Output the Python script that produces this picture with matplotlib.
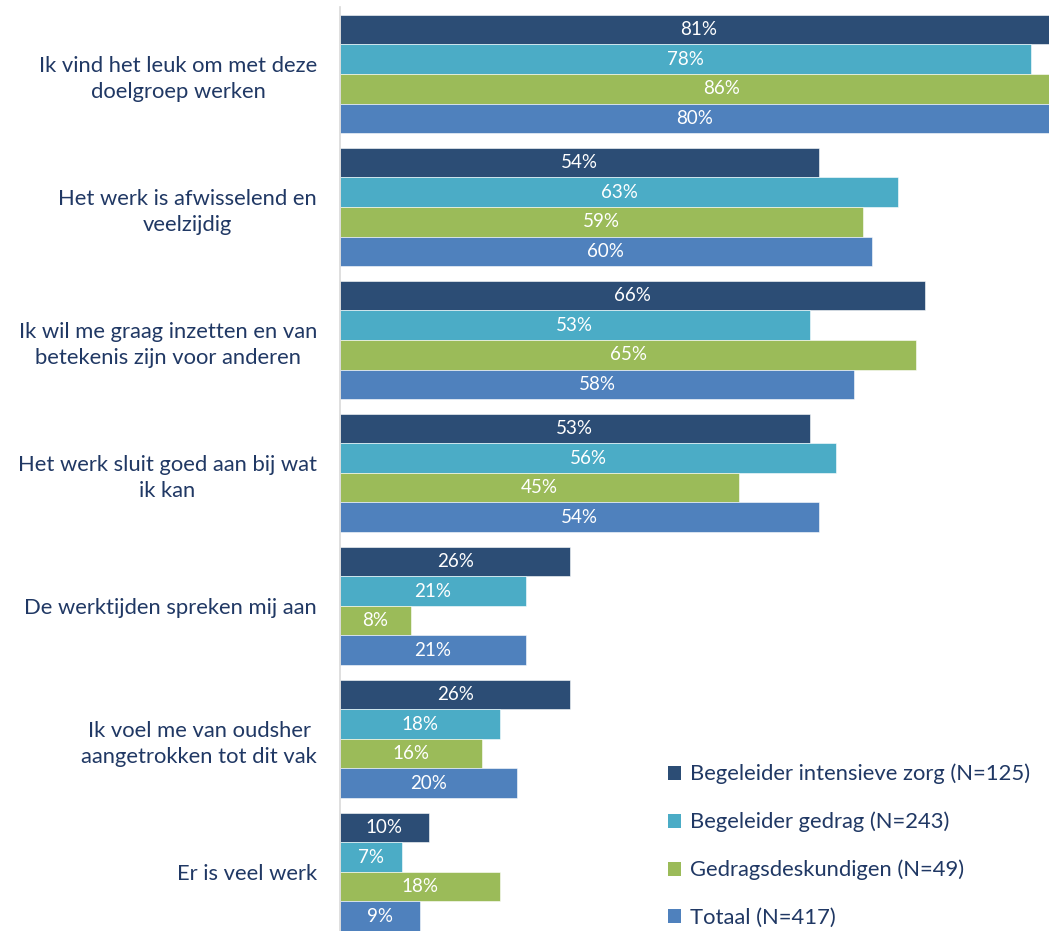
import numpy as np
import matplotlib.pyplot as plt
from matplotlib.patches import Patch

plt.rcParams['font.family'] = ['Lato', 'DejaVu Sans']

categories = [
    "Ik vind het leuk om met deze\ndoelgroep werken",
    "Het werk is afwisselend en\nveelzijdig",
    "Ik wil me graag inzetten en van\nbetekenis zijn voor anderen",
    "Het werk sluit goed aan bij wat\nik kan",
    "De werktijden spreken mij aan",
    "Ik voel me van oudsher\naangetrokken tot dit vak",
    "Er is veel werk",
]
series_names = [
    "Begeleider intensieve zorg (N=125)",
    "Begeleider gedrag (N=243)",
    "Gedragsdeskundigen (N=49)",
    "Totaal (N=417)",
]
intensieve = [81, 54, 66, 53, 26, 26, 10]
gedrag = [78, 63, 53, 56, 21, 18, 7]
deskundigen = [86, 59, 65, 45, 8, 16, 18]
totaal = [80, 60, 58, 54, 21, 20, 9]
series = [intensieve, gedrag, deskundigen, totaal]
colors = ["#2C4D75", "#4BACC6", "#9BBB59", "#4F81BD"]
text_color = "#203864"

W, H = 1049, 931
fig = plt.figure(figsize=(W / 100, H / 100), dpi=100)
ax = fig.add_axes([340 / W, 0, 1 - 340 / W, 1 - 7.5 / H])

bar_h = 0.222
y = np.arange(len(categories))
for k, (vals, col, name) in enumerate(zip(series, colors, series_names)):
    ypos = y - 1.5 * bar_h + k * bar_h
    bars = ax.barh(ypos, vals, height=bar_h, color=col, edgecolor="white",
                   linewidth=0.4, label=name)
    for b, v in zip(bars, vals):
        ax.text(v / 2, b.get_y() + b.get_height() / 2, f"{v}%",
                ha="center", va="center", color="white", fontsize=13.5)

ax.set_xlim(0, 80)
ax.set_ylim(len(categories) - 1 + 2 * bar_h, -0.5)
ax.set_xticks([])
ax.set_yticks(y)
ax.set_yticklabels(categories, fontsize=15.8, color=text_color)
for lab in ax.get_yticklabels():
    lab.set_multialignment("center")
    lab.set_linespacing(1.35)
ax.tick_params(axis="y", length=0, pad=16.5)
for s in ["top", "right", "bottom"]:
    ax.spines[s].set_visible(False)
ax.spines["left"].set_color("#D9D9D9")
ax.spines["left"].set_linewidth(1.2)

handles = [Patch(facecolor=c, edgecolor="none") for c in colors]
leg = fig.legend(handles, series_names, loc="upper left",
                 bbox_to_anchor=(648 / W, 1 - 744 / H), frameon=False,
                 fontsize=15.8, handlelength=0.6, handleheight=0.6,
                 handletextpad=0.4, labelspacing=1.25)
for t in leg.get_texts():
    t.set_color(text_color)

fig.savefig("out.png", dpi=100)
